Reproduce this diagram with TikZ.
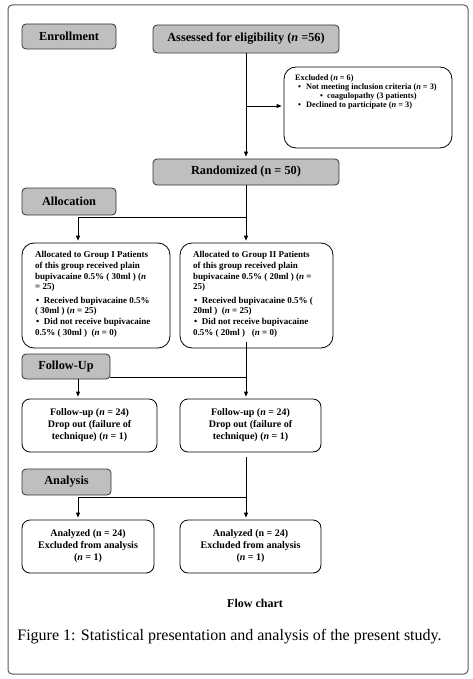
\documentclass[tikz,border=0pt]{standalone}
\usepackage{fontspec}
\setmainfont{Liberation Serif}
\usetikzlibrary{arrows.meta}
\begin{document}
\begin{tikzpicture}[x=1pt,y=-1pt,
  hdr/.style={draw=black!80, fill=black!25, rounded corners=4pt, line width=0.8pt, inner sep=0pt,
    font=\fontsize{12.3}{14}\selectfont\bfseries},
  rbox/.style={draw=black, rounded corners=12pt, line width=0.8pt, inner sep=0pt},
  sbox/.style={draw=black, rounded corners=8pt, line width=0.8pt, inner sep=0pt, align=center,
    font=\fontsize{10}{12}\selectfont\bfseries},
  txt/.style={align=left, inner sep=0pt},
  arr/.style={-{Triangle[length=5pt,width=4pt]}, line width=0.8pt, shorten >=2pt},
  ln/.style={line width=0.8pt}]
\useasboundingbox (0,0) rectangle (473,679);
\draw[draw=black!65, line width=1pt, rounded corners=4pt] (8,5) rectangle (468,674);

% header boxes
\node[hdr, minimum width=94, minimum height=25] (enr) at (69,36.5) {Enrollment};
\node[hdr, minimum width=186, minimum height=28] (ass) at (246,39) {Assessed for eligibility (\textit{n} =56)};
\node[hdr, minimum width=186, minimum height=26] (ran) at (246,172) {Randomized (n = 50)};
\node[hdr, minimum width=94, minimum height=27] (alo) at (69,201.5) {Allocation};
\node[hdr, minimum width=88, minimum height=25] (fol) at (66,366.5) {Follow-Up};
\node[hdr, minimum width=89, minimum height=26] (ana) at (66.5,482) {Analysis};

% excluded box
\node[rbox, minimum width=168, minimum height=81] (exc) at (368,107.5) {};
\node[txt, anchor=base west, font=\fontsize{8.3}{9}\selectfont\bfseries] (exct) at (295,108)
 {Excluded (\textit{n} = 6)\\
  \hspace*{3pt}\textbullet\hspace{5pt}Not meeting inclusion criteria (\textit{n} = 3)\\
  \hspace*{25pt}\textbullet\hspace{4pt}coagulopathy (3 patients)\\
  \hspace*{3pt}\textbullet\hspace{5pt}Declined to participate (\textit{n} = 3)};

% group boxes
\node[rbox, minimum width=148, minimum height=105] (g1) at (96,295.5) {};
\node[txt, anchor=base west, font=\fontsize{9}{10.6}\selectfont\bfseries] (g1t) at (35,335)
 {Allocated to Group I Patients\\
  of this group received plain\\
  bupivacaine 0.5\% ( 30ml ) (\textit{n}\\
  = 25)\\[3pt]
  \hspace*{1pt}\textbullet\hspace{4.5pt}Received bupivacaine 0.5\%\\
  ( 30ml ) (\textit{n} = 25)\\
  \hspace*{1pt}\textbullet\hspace{4.5pt}Did not receive bupivacaine\\
  0.5\% ( 30ml )\ \ (\textit{n} = 0)};
\node[rbox, minimum width=153, minimum height=105] (g2) at (256.5,295.5) {};
\node[txt, anchor=base west, font=\fontsize{9}{10.6}\selectfont\bfseries] (g2t) at (193,335)
 {Allocated to Group II Patients\\
  of this group received plain\\
  bupivacaine 0.5\% ( 20ml ) (\textit{n} =\\
  25)\\[3pt]
  \hspace*{1pt}\textbullet\hspace{4.5pt}Received bupivacaine 0.5\% (\\
  20ml )\ \ (\textit{n} = 25)\\
  \hspace*{1pt}\textbullet\hspace{4.5pt}Did not receive bupivacaine\\
  0.5\% ( 20ml )\ \ \ (\textit{n} = 0)};

% follow-up boxes
\node[sbox, minimum width=135, minimum height=53] (fu1) at (89.5,425.5)
 {Follow-up (\textit{n} = 24)\\Drop out (failure of\\technique) (\textit{n} = 1)};
\node[sbox, minimum width=141, minimum height=53] (fu2) at (250.5,425.5)
 {Follow-up (\textit{n} = 24)\\Drop out (failure of\\technique) (\textit{n} = 1)};

% analyzed boxes
\node[sbox, minimum width=132, minimum height=53] (an1) at (88,546.5)
 {Analyzed (n = 24)\\Excluded from analysis\\(\textit{n} = 1)};
\node[sbox, minimum width=141, minimum height=53] (an2) at (250.5,546.5)
 {Analyzed (n = 24)\\Excluded from analysis\\(\textit{n} = 1)};

% captions
\node[font=\fontsize{12}{14}\selectfont\bfseries, inner sep=0pt] (fc) at (255,603) {Flow chart};
\node[font=\fontsize{16}{18}\selectfont, inner sep=0pt] (cap) at (229.5,637)
 {Figure 1: Statistical presentation and analysis of the present study.};

% connectors
\draw[arr] (ass.south) -- (ran.north);
\coordinate (b1) at (246,106);
\draw[arr] (b1) -- (b1 -| exc.west);
\draw[arr] (ran.south) -- (ran.south |- g2.north);
\coordinate (a1) at (78,217);
\coordinate (a2) at (246,217);
\draw[ln] (a1) -- (a2);
\draw[arr] (a1) -- (a1 |- g1.north);

\coordinate (g2out) at (246,342);
\draw[arr] (g2out) -- (g2out |- fu2.north);
\coordinate (f1) at (110,377);
\coordinate (f2) at (246,377);
\draw[ln] (f1) -- (f2);
\coordinate (f3) at (78,379);
\draw[arr] (f3) -- (f3 |- fu1.north);

\coordinate (fu2out) at (246,457);
\draw[arr] (fu2out) -- (fu2out |- an2.north);
\coordinate (h1) at (78,497);
\coordinate (h2) at (246,497);
\draw[ln] (h1) -- (h2);
\draw[arr] (h1) -- (h1 |- an1.north);
\end{tikzpicture}
\end{document}
